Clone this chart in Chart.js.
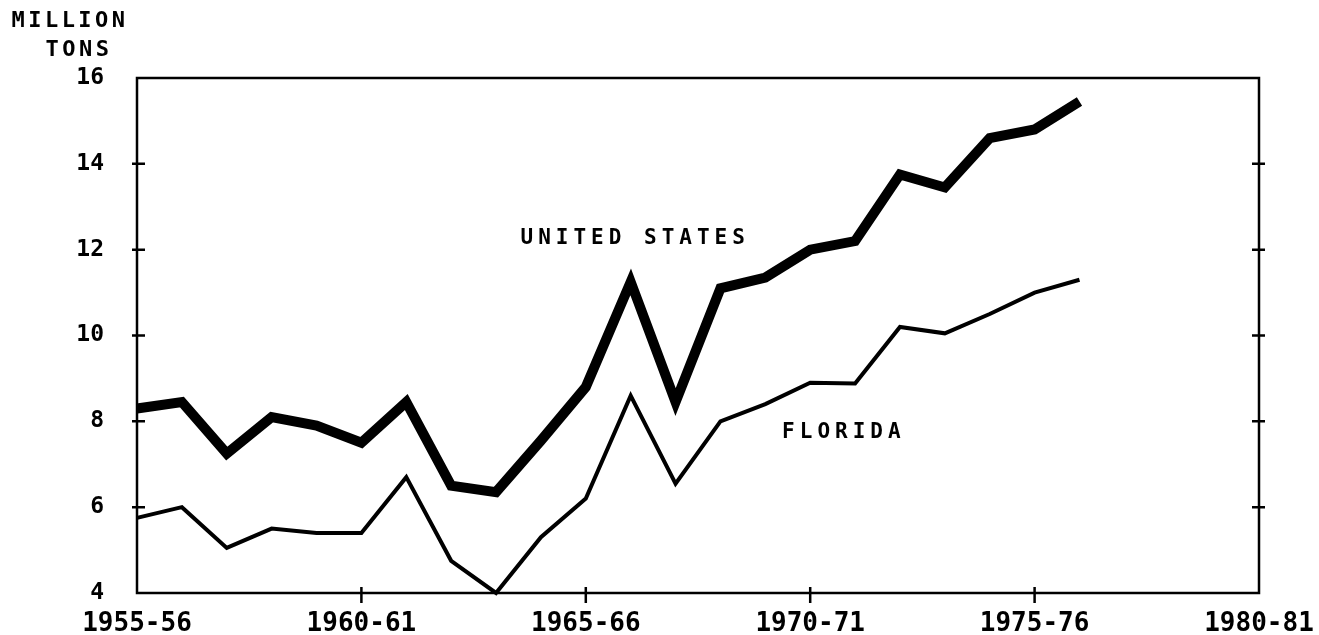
<!DOCTYPE html>
<html>
<head>
<meta charset="utf-8">
<script src="https://cdn.jsdelivr.net/npm/chart.js@4.4.1/dist/chart.umd.min.js"></script>
<style>
  html, body { margin: 0; background: #fff; }
  #wrap { width: 1319px; height: 635px; }
</style>
</head>
<body>
<div id="wrap"><canvas id="chart"></canvas></div>
<script>
// crop seasons on the x axis (1955-56 .. 1980-81)
const seasons = [
  "1955-56", "1956-57", "1957-58", "1958-59", "1959-60",
  "1960-61", "1961-62", "1962-63", "1963-64", "1964-65",
  "1965-66", "1966-67", "1967-68", "1968-69", "1969-70",
  "1970-71", "1971-72", "1972-73", "1973-74", "1974-75",
  "1975-76", "1976-77", "1977-78", "1978-79", "1979-80",
  "1980-81"
];
const tickSeasons = ["1955-56", "1960-61", "1965-66", "1970-71", "1975-76", "1980-81"];
const yTicks = [4, 6, 8, 10, 12, 14, 16];

// million tons
const unitedStates = [8.3, 8.45, 7.25, 8.1, 7.9, 7.5, 8.45, 6.5, 6.35, 7.55, 8.8,
  11.25, 8.45, 11.1, 11.35, 12.0, 12.2, 13.75, 13.45, 14.6, 14.8, 15.45];
const florida = [5.75, 6.0, 5.05, 5.5, 5.4, 5.4, 6.7, 4.75, 4.0, 5.3, 6.2,
  8.6, 6.55, 8.0, 8.4, 8.9, 8.88, 10.2, 10.05, 10.5, 11.0, 11.3];

const seriesNames = ["UNITED STATES", "FLORIDA"];
const unitLines = ["MILLION", "TONS"];

const MONO = "'DejaVu Sans Mono', monospace";

// frame, crossing tick marks, unit title and series labels
const decor = {
  id: "decor",
  afterDatasetsDraw(chart) {
    const { ctx, chartArea: a, scales: { x, y } } = chart;
    ctx.save();
    ctx.strokeStyle = "#000";
    ctx.lineWidth = 2.5;
    ctx.strokeRect(a.left, a.top, a.right - a.left, a.bottom - a.top);

    ctx.beginPath();
    yTicks.slice(1, -1).forEach(v => {
      const py = y.getPixelForValue(v);
      ctx.moveTo(a.left - 5, py); ctx.lineTo(a.left + 8, py);
      ctx.moveTo(a.right - 7, py); ctx.lineTo(a.right + 6, py);
    });
    tickSeasons.slice(1, -1).forEach(s => {
      const px = x.getPixelForValue(seasons.indexOf(s));
      ctx.moveTo(px, a.bottom - 6); ctx.lineTo(px, a.bottom + 10);
    });
    ctx.stroke();

    ctx.fillStyle = "#000";
    ctx.textAlign = "center";
    ctx.textBaseline = "middle";
    ctx.letterSpacing = "3.5px";
    ctx.font = "bold 22px " + MONO;
    ctx.fillText(unitLines[0], 70, 21);
    ctx.fillText(unitLines[1], 79, 50);

    ctx.letterSpacing = "5px";
    ctx.font = "bold 21px " + MONO;
    ctx.fillText(seriesNames[0], x.getPixelForValue(11.1), y.getPixelForValue(12.25));
    ctx.fillText(seriesNames[1], x.getPixelForValue(15.75), y.getPixelForValue(7.73));
    ctx.restore();
  }
};

const ctx = document.getElementById("chart").getContext("2d");

new Chart(ctx, {
  type: "line",
  data: {
    labels: seasons,
    datasets: [
      {
        label: seriesNames[0],
        data: unitedStates,
        borderColor: "#000",
        borderWidth: 10,
        pointRadius: 0,
        tension: 0,
        clip: false
      },
      {
        label: seriesNames[1],
        data: florida,
        borderColor: "#000",
        borderWidth: 4,
        pointRadius: 0,
        tension: 0,
        clip: false
      }
    ]
  },
  options: {
    responsive: true,
    maintainAspectRatio: false,
    animation: false,
    layout: { padding: { top: 78, right: 60, left: 0, bottom: 0 } },
    plugins: {
      legend: { display: false },
      tooltip: { enabled: false }
    },
    scales: {
      x: {
        offset: false,
        grid: { display: false },
        border: { display: false },
        ticks: {
          autoSkip: false,
          maxRotation: 0,
          padding: 8,
          color: "#000",
          font: { family: MONO, weight: "bold", size: 26 },
          callback: (v, i) => tickSeasons.includes(seasons[i]) ? seasons[i] : null
        },
        afterFit: s => { s.height = 42; s.paddingLeft = 0; s.paddingRight = 0; }
      },
      y: {
        min: 4,
        max: 16,
        grid: { display: false },
        border: { display: false },
        ticks: {
          stepSize: 2,
          padding: 25,
          color: "#000",
          font: { family: MONO, weight: "bold", size: 23 }
        },
        afterFit: s => { s.width = 137; }
      }
    }
  },
  plugins: [decor]
});
</script>
</body>
</html>
